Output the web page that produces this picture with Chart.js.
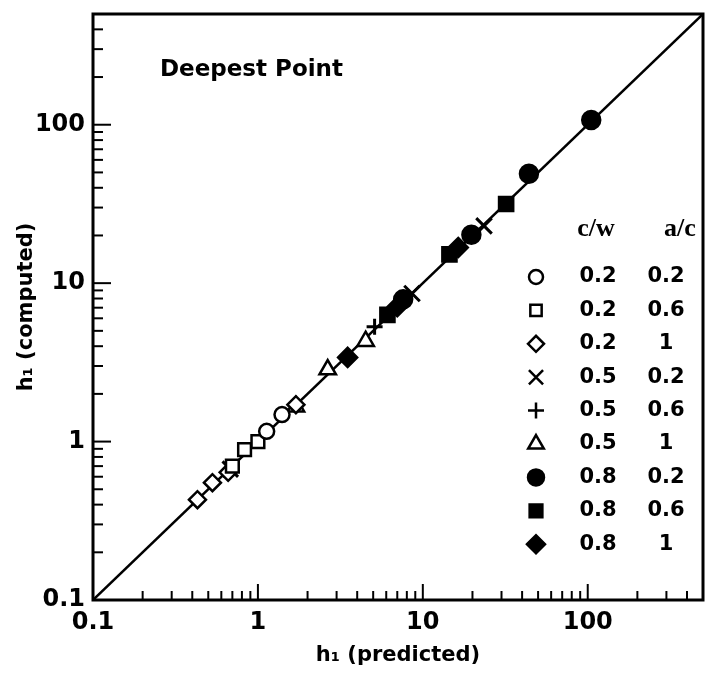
<!DOCTYPE html>
<html>
<head>
<meta charset="utf-8">
<script src="https://cdn.jsdelivr.net/npm/chart.js@4.4.1/dist/chart.umd.min.js"></script>
<style>
html, body { margin: 0; padding: 0; background: #fff; }
#wrap { width: 727px; height: 698px; }
</style>
</head>
<body>
<div id="wrap"><canvas id="chart"></canvas></div>
<script>
// series: one per (c/w, a/c) combination
const seriesCw = ['0.2', '0.2', '0.2', '0.5', '0.5', '0.5', '0.8', '0.8', '0.8'];
const seriesAc = ['0.2', '0.6', '1', '0.2', '0.6', '1', '0.2', '0.6', '1'];
const seriesMarker = ['circle', 'rect', 'rectRot', 'crossRot', 'cross', 'triangle', 'circle', 'rect', 'rectRot'];
const seriesFilled = [false, false, false, false, false, false, true, true, true];

const hPredicted = [
    [1.13, 1.40],
    [0.70, 0.83, 1.0],
    [0.43, 0.53, 0.66, 1.70],
    [0.68, 8.6, 23.5],
    [5.1],
    [1.70, 2.65, 4.5],
    [7.6, 19.7, 44, 105],
    [6.1, 14.5, 32],
    [3.5, 7.0, 16.4]
];
const hComputed = [
    [1.16, 1.48],
    [0.70, 0.89, 1.0],
    [0.43, 0.55, 0.64, 1.71],
    [0.67, 8.6, 23],
    [5.3],
    [1.66, 2.85, 4.3],
    [7.9, 20.2, 49, 107],
    [6.3, 15.2, 31.6],
    [3.4, 7.1, 16.8]
];

const axisMin = 0.1;
const axisMax = 500;
const majorTicks = [0.1, 1, 10, 100];
const majorLabels = ['0.1', '1', '10', '100'];

const markerRadius = [7.5, 9, 8.5, 11, 8, 9.5, 9, 10, 9.5];
const legendRadius = [7, 8, 8, 10, 8, 9, 8, 9, 9];

const BOLD = '"DejaVu Sans", sans-serif';

// all decade multiples for the minor ticks
const allTicks = [];
majorTicks.forEach(function (d) {
    for (let m = 1; m <= 9; m++) {
        const v = +(d * m).toPrecision(3);
        if (v <= axisMax) allTicks.push(v);
    }
});
allTicks.push(axisMax);

function tickLabel(value) {
    const i = majorTicks.findIndex(t => Math.abs(t - value) < 1e-9);
    return i >= 0 ? majorLabels[i] : '';
}

const datasets = seriesCw.map(function (cw, i) {
    return {
        label: 'c/w ' + cw + ', a/c ' + seriesAc[i],
        data: hPredicted[i].map((x, j) => ({x: x, y: hComputed[i][j]})),
        pointStyle: seriesMarker[i],
        pointRadius: markerRadius[i],
        pointHoverRadius: markerRadius[i],
        pointBackgroundColor: seriesFilled[i] ? '#000' : '#fff',
        pointBorderColor: '#000',
        pointBorderWidth: (seriesMarker[i] === 'cross' || seriesMarker[i] === 'crossRot') ? 3 : 2.5,
        showLine: false,
        order: 1
    };
});

datasets.push({
    type: 'line',
    label: 'y = x',
    data: [{x: axisMin, y: axisMin}, {x: axisMax, y: axisMax}],
    borderColor: '#000',
    borderWidth: 2.5,
    pointRadius: 0,
    order: 10
});

// inward tick marks and the box
const framePlugin = {
    id: 'frame',
    beforeDatasetsDraw: function (chart) {
        const ctx = chart.ctx;
        const a = chart.chartArea;
        ctx.save();
        ctx.strokeStyle = '#000';
        ctx.lineWidth = 2;
        chart.scales.x.ticks.forEach(function (t) {
            const px = chart.scales.x.getPixelForValue(t.value);
            const len = tickLabel(t.value) ? 16 : 9;
            ctx.beginPath();
            ctx.moveTo(px, a.bottom);
            ctx.lineTo(px, a.bottom - len);
            ctx.stroke();
        });
        chart.scales.y.ticks.forEach(function (t) {
            const py = chart.scales.y.getPixelForValue(t.value);
            const len = tickLabel(t.value) ? 18 : 10;
            ctx.beginPath();
            ctx.moveTo(a.left, py);
            ctx.lineTo(a.left + len, py);
            ctx.stroke();
        });
        ctx.lineWidth = 3;
        ctx.strokeRect(a.left, a.top, a.right - a.left, a.bottom - a.top);
        ctx.restore();
    }
};

const keyPlugin = {
    id: 'key',
    afterDatasetsDraw: function (chart) {
        const ctx = chart.ctx;
        ctx.save();
        ctx.fillStyle = '#000';
        ctx.textBaseline = 'middle';
        ctx.textAlign = 'center';
        ctx.font = 'bold 26px "Liberation Serif", serif';
        ctx.fillText('c/w', 596, 229);
        ctx.fillText('a/c', 680, 229);

        ctx.font = 'bold 23px ' + BOLD;
        ctx.textAlign = 'left';
        ctx.fillText('Deepest Point', 160, 70);

        ctx.font = 'bold 21px ' + BOLD;
        seriesCw.forEach(function (cw, i) {
            const y = 277 + i * 33.4;
            ctx.fillStyle = seriesFilled[i] ? '#000' : '#fff';
            ctx.strokeStyle = '#000';
            ctx.lineWidth = 2.5;
            Chart.helpers.drawPoint(ctx, {
                pointStyle: seriesMarker[i],
                radius: legendRadius[i],
                rotation: 0,
                borderWidth: 2.5
            }, 536, y);
            ctx.fillStyle = '#000';
            ctx.textAlign = 'center';
            ctx.fillText(cw, 598, y);
            ctx.fillText(seriesAc[i], 666, y);
        });
        ctx.restore();
    }
};

const options = {
    responsive: true,
    maintainAspectRatio: false,
    animation: false,
    devicePixelRatio: 1,
    layout: {
        padding: {top: 10, right: 24, left: 0, bottom: 0}
    },
    scales: {
        x: {
            type: 'logarithmic',
            min: axisMin,
            max: axisMax,
            afterFit: function (s) { s.height = 98; },
            afterBuildTicks: function (s) { s.ticks = allTicks.map(v => ({value: v})); },
            grid: {display: false},
            border: {display: false},
            ticks: {
                autoSkip: false,
                maxRotation: 0,
                padding: 0,
                color: '#000',
                font: {family: BOLD, size: 24, weight: 'bold'},
                callback: function (value) { return tickLabel(value); }
            },
            title: {
                display: true,
                text: 'h₁ (predicted)',
                color: '#000',
                font: {family: BOLD, size: 21, weight: 'bold'},
                padding: {top: 0, bottom: 30}
            }
        },
        y: {
            type: 'logarithmic',
            min: axisMin,
            max: axisMax,
            afterFit: function (s) { s.width = 93; },
            afterBuildTicks: function (s) { s.ticks = allTicks.map(v => ({value: v})); },
            grid: {display: false},
            border: {display: false},
            ticks: {
                autoSkip: false,
                padding: 0,
                color: '#000',
                font: {family: BOLD, size: 24, weight: 'bold', lineHeight: 0.7},
                callback: function (value) { return tickLabel(value); }
            },
            title: {
                display: true,
                text: 'h₁ (computed)',
                color: '#000',
                font: {family: BOLD, size: 21, weight: 'bold'},
                padding: {top: 14, bottom: 0}
            }
        }
    },
    plugins: {
        legend: {display: false},
        tooltip: {enabled: false}
    }
};

new Chart(document.getElementById('chart'), {
    type: 'scatter',
    data: {datasets: datasets},
    options: options,
    plugins: [framePlugin, keyPlugin]
});
</script>
</body>
</html>
